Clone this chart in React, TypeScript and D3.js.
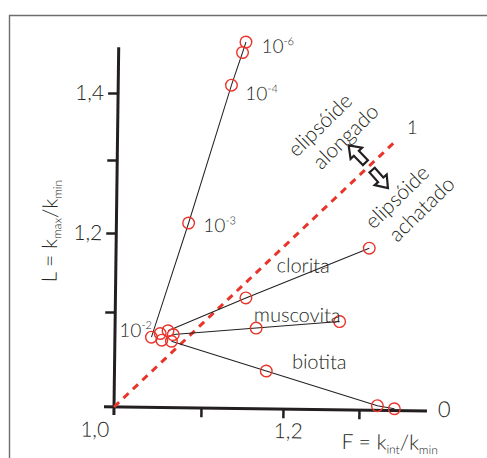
import React, { useEffect, useRef } from 'react';
import * as d3 from 'd3';

// axis ticks and the (uneven, hand-drawn) pixel spacing of the original axes
const fTicks = [1.0, 1.1, 1.2, 1.3, 1.4];
const lTicks = [1.0, 1.1, 1.2, 1.3, 1.4, 1.5];
const fStops = [0, 87, 169, 245, 313];
const lStops = [0, 95, 174, 247, 314, 376];

// series: F = kint/kmin, L = kmax/kmin
const concF = [1.042, 1.083, 1.132, 1.145, 1.149];
const concL = [1.074, 1.215, 1.415, 1.468, 1.485];
const cloritaF = [1.061, 1.153, 1.312];
const cloritaL = [1.081, 1.12, 1.185];
const muscovitaF = [1.067, 1.166, 1.273];
const muscovitaL = [1.077, 1.085, 1.093];
const biotitaF = [1.065, 1.179, 1.327, 1.352];
const biotitaL = [1.07, 1.04, 1.005, 1.002];
const clusterF = [1.052, 1.054];
const clusterL = [1.078, 1.071];

// concentration labels (10^x)
const concExp = ['-2', '-3', '-4', '-6'];
const concLabF = [1.005, 1.1, 1.149, 1.168];
const concLabL = [1.074, 1.203, 1.392, 1.468];

// L = F reference line
const isoF = [1.0, 1.35];
const isoL = [1.0, 1.335];

const mineralNames = ['clorita', 'muscovita', 'biotita'];
const mineralLabF = [1.19, 1.163, 1.211];
const mineralLabL = [1.153, 1.092, 1.043];

const App = () => {
  const ref = useRef<SVGSVGElement>(null);

  useEffect(() => {
    const ox = 114, oy = 407;
    const svg = d3.select(ref.current);
    svg.selectAll('*').remove();

    const font = 'Lato, "DejaVu Sans", sans-serif';
    const ink = '#231f20';
    const red = '#e8352b';

    // frame
    svg.append('path')
      .attr('d', 'M9.5,458 V15.5 H487')
      .attr('fill', 'none')
      .attr('stroke', '#6d6d6d')
      .attr('stroke-width', 1.4);

    const x = d3.scaleLinear().domain(fTicks).range(fStops.map((d) => ox + d));
    const y = d3.scaleLinear().domain(lTicks).range(lStops.map((d) => oy - d));

    // the whole drawing is tilted slightly in the original
    const g = svg.append('g')
      .attr('transform', `rotate(0.75, ${ox}, ${oy})`)
      .style('font-family', font)
      .style('font-weight', 300)
      .attr('fill', ink);

    // axes
    const yAxis = g.append('g')
      .attr('transform', `translate(${ox},0)`)
      .call(
        d3.axisLeft(y)
          .tickValues([1.1, 1.2, 1.3, 1.4])
          .tickSize(10)
          .tickPadding(4)
          .tickFormat((d: any) => (d === 1.2 || d === 1.4 ? d3.format('.1f')(d).replace('.', ',') : ''))
      );
    yAxis.select('.domain').remove();
    yAxis.selectAll('line').attr('stroke', ink).attr('stroke-width', 2.5);
    yAxis.selectAll('text').attr('font-size', 21).attr('fill', ink).style('font-family', font);

    const xAxis = g.append('g')
      .attr('transform', `translate(0,${oy})`)
      .call(
        d3.axisBottom(x)
          .tickValues([1.1, 1.2, 1.3])
          .tickSize(9)
          .tickPadding(5)
          .tickFormat((d: any) => (d === 1.2 ? '1,2' : ''))
      );
    xAxis.select('.domain').remove();
    xAxis.selectAll('line').attr('stroke', ink).attr('stroke-width', 2.5);
    xAxis.selectAll('text').attr('font-size', 21).attr('fill', ink).attr('dx', 5).style('font-family', font);

    g.append('line')
      .attr('x1', ox).attr('x2', ox)
      .attr('y1', oy + 8).attr('y2', y(1.474))
      .attr('stroke', ink).attr('stroke-width', 3);
    g.append('line')
      .attr('x1', ox - 10).attr('x2', x(1.4))
      .attr('y1', oy).attr('y2', oy)
      .attr('stroke', ink).attr('stroke-width', 3);

    g.append('text')
      .attr('x', ox - 19).attr('y', oy + 30)
      .attr('text-anchor', 'middle')
      .attr('font-size', 21)
      .text('1,0');

    // axis titles
    const yt = g.append('text')
      .attr('transform', `translate(55,232) rotate(-90)`)
      .attr('text-anchor', 'middle')
      .attr('font-size', 21);
    yt.append('tspan').text('L = k');
    yt.append('tspan').attr('font-size', 12).attr('dy', 4).text('max');
    yt.append('tspan').attr('dy', -4).text('/k');
    yt.append('tspan').attr('font-size', 12).attr('dy', 4).text('min');

    const xt = g.append('text')
      .attr('x', 342).attr('y', 446)
      .attr('font-size', 21);
    xt.append('tspan').text('F = k');
    xt.append('tspan').attr('font-size', 12).attr('dy', 4).text('int');
    xt.append('tspan').attr('dy', -4).text('/k');
    xt.append('tspan').attr('font-size', 12).attr('dy', 4).text('min');

    // L = F line
    const line = d3.line<number[]>().x((d) => x(d[0])).y((d) => y(d[1]));
    const pairs = (fs: number[], ls: number[]) => fs.map((f, i) => [f, ls[i]]);

    g.append('path')
      .attr('d', line(pairs(isoF, isoL)))
      .attr('fill', 'none')
      .attr('stroke', red)
      .attr('stroke-width', 3)
      .attr('stroke-dasharray', '7 6');

    g.append('text')
      .attr('x', x(1.365)).attr('y', y(1.3445))
      .attr('font-size', 19)
      .text('1');
    g.append('text')
      .attr('x', x(1.416)).attr('y', y(0.994))
      .attr('font-size', 22)
      .text('0');

    // series lines and circles
    const allSeries = [
      pairs(concF, concL),
      pairs(cloritaF, cloritaL),
      pairs(muscovitaF, muscovitaL),
      pairs(biotitaF, biotitaL),
    ];
    allSeries.forEach((s) => {
      g.append('path')
        .attr('d', line(s))
        .attr('fill', 'none')
        .attr('stroke', ink)
        .attr('stroke-width', 1);
    });

    const pts = allSeries.flat().concat(pairs(clusterF, clusterL));
    g.selectAll('circle.pt')
      .data(pts)
      .enter()
      .append('circle')
      .attr('class', 'pt')
      .attr('cx', (d) => x(d[0]))
      .attr('cy', (d) => y(d[1]))
      .attr('r', 5.8)
      .attr('fill', 'none')
      .attr('stroke', red)
      .attr('stroke-width', 1.4);

    // concentration labels
    concExp.forEach((e, i) => {
      const t = g.append('text')
        .attr('x', x(concLabF[i])).attr('y', y(concLabL[i]))
        .attr('font-size', 19);
      t.append('tspan').text('10');
      t.append('tspan').attr('font-size', 11).attr('dy', -8).text(e);
    });

    // mineral labels
    mineralNames.forEach((n, i) => {
      g.append('text')
        .attr('x', x(mineralLabF[i])).attr('y', y(mineralLabL[i]))
        .attr('font-size', 20)
        .text(n);
    });

    // ellipsoid annotations
    const notes = [
      { t: 'elipsóide', f: 1.2438, l: 1.3563 },
      { t: 'alongado', f: 1.2776, l: 1.3396 },
      { t: 'elipsóide', f: 1.3518, l: 1.2544 },
      { t: 'achatado', f: 1.3881, l: 1.2384 },
    ];
    notes.forEach((n) => {
      g.append('text')
        .attr('transform', `translate(${x(n.f)},${y(n.l)}) rotate(-45)`)
        .attr('text-anchor', 'middle')
        .attr('dy', '0.35em')
        .attr('font-size', 21)
        .text(n.t);
    });

    // hollow arrows across the L = F line
    const arrowPath = 'M-12,-3.5 H1 V-8 L12,0 L1,8 V3.5 H-12 Z';
    const arrows = [
      { f: 1.293, l: 1.3136, a: -135 },
      { f: 1.3265, l: 1.2786, a: 48 },
    ];
    arrows.forEach((a) => {
      g.append('path')
        .attr('d', arrowPath)
        .attr('transform', `translate(${x(a.f)},${y(a.l)}) rotate(${a.a})`)
        .attr('fill', '#fff')
        .attr('stroke', ink)
        .attr('stroke-width', 2.2);
    });
  }, []);

  return (
    <svg
      ref={ref}
      width={487}
      height={458}
      style={{ position: 'absolute', left: 0, top: 0, background: '#fff' }}
    />
  );
};

export default App;
